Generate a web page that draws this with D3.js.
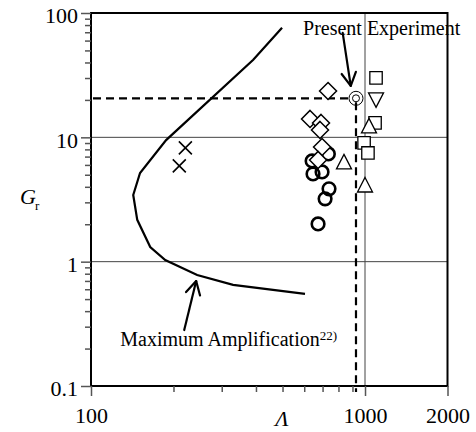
<!DOCTYPE html>
<html><head><meta charset="utf-8">
<script src="https://cdn.jsdelivr.net/npm/d3@7"></script>
<style>
body{margin:0;background:#fff}
svg{display:block}
text{font-family:"Liberation Serif","Times New Roman",serif;fill:#000}
</style>
</head><body>
<svg id="chart" width="476" height="432"></svg>
<script>
// Axis ticks
const xMajor = [100, 1000, 2000];
const xTickLabels = ["100", "1000", "2000"];
const xMinor = [200, 300, 400, 500, 600, 700, 800, 900];
const yMajor = [0.1, 1, 10, 100];
const yTickLabels = ["0.1", "1", "10", "100"];
const yMinor = [0.2,0.3,0.4,0.5,0.6,0.7,0.8,0.9, 2,3,4,5,6,7,8,9, 20,30,40,50,60,70,80,90];

// Maximum amplification curve (ref. 22)
const curveLambda = [498, 391, 188, 151, 142.6, 147.5, 164.5, 186.6, 244, 330, 604];
const curveGain   = [76, 42, 9.5, 5.17, 3.44, 2.17, 1.31, 1.03, 0.78, 0.65, 0.55];

// Measured data sets
const crossLambda = [221, 210];
const crossGain   = [8.22, 5.89];
const circleLambda = [641, 735, 646, 697, 739, 715, 674];
const circleGain   = [6.46, 7.35, 5.08, 5.27, 3.85, 3.20, 2.01];
const diamondLambda = [733, 630, 691, 685, 697, 674];
const diamondGain   = [23.6, 14.06, 13.06, 11.47, 8.37, 6.58];
const triangleLambda = [838, 1034, 1000];
const triangleGain   = [6.23, 12.13, 4.06];
const invTriangleLambda = [1097];
const invTriangleGain   = [20.4];
const squareLambda = [1097, 1088, 992, 1025];
const squareGain   = [30.1, 13.06, 9.02, 7.49];
const presentLambda = [927];
const presentGain   = [20.6];

(function draw() {
const svg = d3.select("#chart");
const pL = 91, pR = 447.5, pT = 13, pB = 386;
const x = d3.scaleLog().domain([100, 2000]).range([pL, pR]);
const y = d3.scaleLog().domain([0.1, 100]).range([pB, pT]);

// grid lines
const grid = svg.append("g").attr("stroke", "#444").attr("stroke-width", 1);
grid.selectAll("line.h").data([1, 10]).join("line").attr("class", "h")
  .attr("x1", pL).attr("x2", pR).attr("y1", d => y(d)).attr("y2", d => y(d));
grid.selectAll("line.v").data([1000]).join("line").attr("class", "v")
  .attr("x1", d => x(d)).attr("x2", d => x(d)).attr("y1", pT).attr("y2", pB);

// dashed guides to the present experiment point
const px = x(presentLambda[0]), py = y(presentGain[0]);
const dash = svg.append("g").attr("stroke", "#000").attr("stroke-width", 2.2).attr("stroke-dasharray", "8,5");
dash.append("line").attr("x1", pL + 2).attr("x2", px - 4).attr("y1", py).attr("y2", py);
dash.append("line").attr("x1", px).attr("x2", px).attr("y1", py + 4).attr("y2", pB + 6);

// amplification curve
svg.append("path")
  .datum(curveLambda.map((l, i) => [l, curveGain[i]]))
  .attr("fill", "none").attr("stroke", "#000").attr("stroke-width", 2.2)
  .attr("d", d3.line().x(d => x(d[0])).y(d => y(d[1])));

// markers
const zip = (a, b) => a.map((v, i) => [v, b[i]]);
function markers(data, pathStr, sw) {
  svg.append("g").selectAll("path").data(data).join("path")
    .attr("transform", d => `translate(${x(d[0])},${y(d[1])})`)
    .attr("d", pathStr).attr("fill", "#fff").attr("stroke", "#000").attr("stroke-width", sw);
}
svg.append("g").selectAll("path").data(zip(crossLambda, crossGain)).join("path")
  .attr("transform", d => `translate(${x(d[0])},${y(d[1])})`)
  .attr("d", "M-6.5,-6.5L6.5,6.5M-6.5,6.5L6.5,-6.5")
  .attr("fill", "none").attr("stroke", "#000").attr("stroke-width", 1.6);

svg.append("g").selectAll("circle").data(zip(circleLambda, circleGain)).join("circle")
  .attr("cx", d => x(d[0])).attr("cy", d => y(d[1])).attr("r", 6.3)
  .attr("fill", "none").attr("stroke", "#000").attr("stroke-width", 2.6);

markers(zip(diamondLambda, diamondGain), "M0,-8.5L8.5,0L0,8.5L-8.5,0Z", 1.5);
markers(zip(squareLambda, squareGain), "M-6.2,-6.2H6.2V6.2H-6.2Z", 1.3);
markers(zip(triangleLambda, triangleGain), "M0,-8.5L7.5,6L-7.5,6Z", 1.3);
markers(zip(invTriangleLambda, invTriangleGain), "M0,8.5L7.5,-6L-7.5,-6Z", 1.3);

// present experiment: double circle
const pe = svg.append("g").attr("fill", "none").attr("stroke", "#000").attr("stroke-width", 1);
pe.append("circle").attr("cx", px).attr("cy", py).attr("r", 7);
pe.append("circle").attr("cx", px).attr("cy", py).attr("r", 3.5);

// frame
svg.append("rect").attr("x", pL).attr("y", pT).attr("width", pR - pL).attr("height", pB - pT)
  .attr("fill", "none").attr("stroke", "#000").attr("stroke-width", 2);

// axes
function styleAxis(g) {
  g.select(".domain").remove();
  g.selectAll(".tick line").attr("stroke", "#555").attr("stroke-width", 1.5);
  g.selectAll(".tick text").style("font-family", '"Liberation Serif",serif').style("font-size", "22px").attr("fill", "#000");
}
svg.append("g").attr("transform", `translate(${pL},0)`)
  .call(d3.axisLeft(y).tickValues(yMinor).tickSize(6).tickFormat(""))
  .call(styleAxis);
svg.append("g").attr("transform", `translate(${pL},0)`)
  .call(d3.axisLeft(y).tickValues(yMajor).tickSize(10).tickPadding(3).tickFormat((d, i) => yTickLabels[i]))
  .call(styleAxis)
  .call(g => g.selectAll(".tick text").attr("dy", "0.45em"));
svg.append("g").attr("transform", `translate(0,${pB})`)
  .call(d3.axisBottom(x).tickValues(xMinor).tickSize(6).tickFormat(""))
  .call(styleAxis);
svg.append("g").attr("transform", `translate(0,${pB})`)
  .call(d3.axisBottom(x).tickValues(xMajor).tickSize(10).tickFormat((d, i) => xTickLabels[i]))
  .call(styleAxis)
  .call(g => g.selectAll(".tick text").attr("y", 37).attr("dy", 0));

// axis titles
svg.append("text").attr("x", 282).attr("y", 426).attr("text-anchor", "middle")
  .style("font-size", "22px").style("font-style", "italic").text("Λ");
const yt = svg.append("text").attr("x", 20).attr("y", 204).style("font-size", "22px");
yt.append("tspan").style("font-style", "italic").text("G");
yt.append("tspan").attr("dy", 6).attr("dx", -1).style("font-size", "13px").text("r");

// annotations (positions in data units)
const peLabel = [594, 66.7], peArrowFrom = [829, 69.2], peArrowTo = [887, 25.9];
const maLabel = [127.9, 0.21], maArrowFrom = [218.9, 0.282], maArrowTo = [242, 0.699];

svg.append("text").attr("x", x(peLabel[0])).attr("y", y(peLabel[1]))
  .style("font-size", "20px").text("Present Experiment");
const ma = svg.append("text").attr("x", x(maLabel[0])).attr("y", y(maLabel[1])).style("font-size", "20px");
ma.append("tspan").text("Maximum Amplification");
ma.append("tspan").attr("dy", -6).style("font-size", "13px").text("22)");

function arrow(from, to) {
  const x1 = x(from[0]), y1 = y(from[1]), x2 = x(to[0]), y2 = y(to[1]);
  const a = Math.atan2(y2 - y1, x2 - x1), L = 15, spread = 0.5;
  const g = svg.append("g").attr("stroke", "#000").attr("stroke-width", 2.2).attr("fill", "none")
    .attr("stroke-linecap", "round").attr("stroke-linejoin", "round");
  g.append("line").attr("x1", x1).attr("y1", y1).attr("x2", x2).attr("y2", y2);
  g.append("path").attr("d",
    `M${x2 - L * Math.cos(a - spread)},${y2 - L * Math.sin(a - spread)}L${x2},${y2}L${x2 - L * Math.cos(a + spread)},${y2 - L * Math.sin(a + spread)}`);
}
arrow(peArrowFrom, peArrowTo);
arrow(maArrowFrom, maArrowTo);
})();
</script>
</body></html>
